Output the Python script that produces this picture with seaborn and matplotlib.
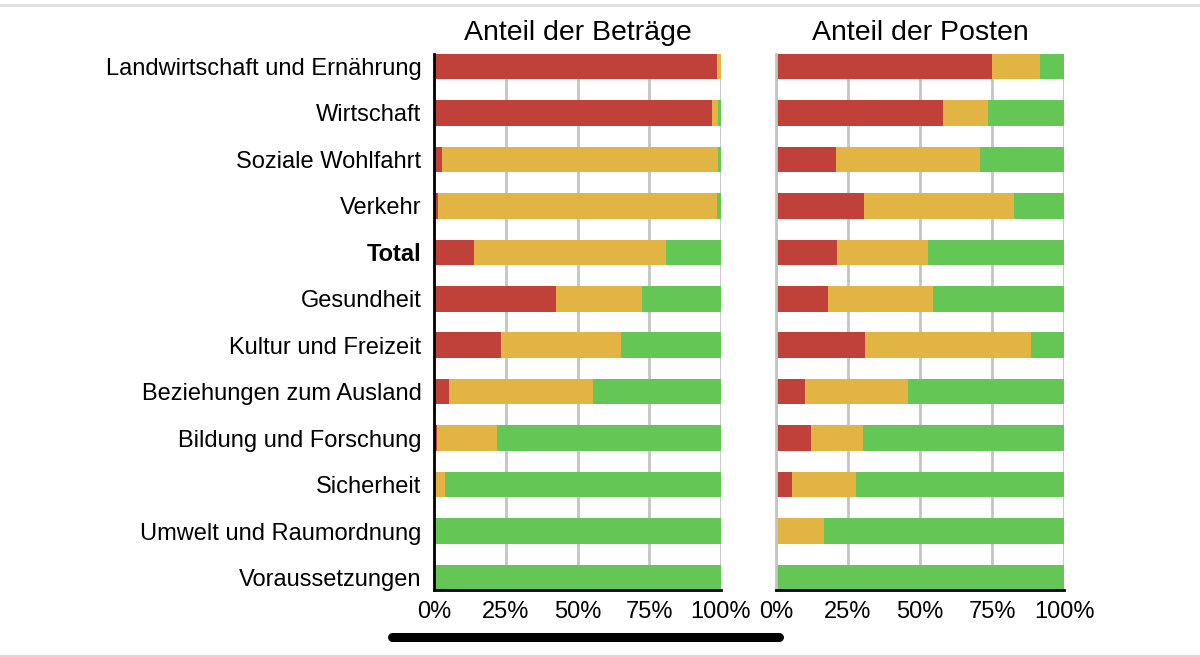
import numpy as np
import pandas as pd
import matplotlib
matplotlib.use("Agg")
import matplotlib.pyplot as plt
import seaborn as sns
from matplotlib.lines import Line2D

sns.set_style("white")
plt.rcParams['font.family'] = ['Liberation Sans', 'DejaVu Sans']
plt.rcParams['text.color'] = 'black'
plt.rcParams['xtick.color'] = 'black'
plt.rcParams['ytick.color'] = 'black'

# Categories (top to bottom)
categories = [
    "Landwirtschaft und Ernährung", "Wirtschaft", "Soziale Wohlfahrt", "Verkehr",
    "Total", "Gesundheit", "Kultur und Freizeit", "Beziehungen zum Ausland",
    "Bildung und Forschung", "Sicherheit", "Umwelt und Raumordnung", "Voraussetzungen",
]

# Anteil der Beträge (%): red, yellow (rest is green)
betraege_rot = [98.7, 97.0, 2.9, 1.5, 14.1, 42.6, 23.2, 5.4, 1.0, 0.0, 0.0, 0.0]
betraege_gelb = [1.3, 2.1, 95.9, 97.2, 66.7, 30.0, 42.0, 49.9, 20.9, 4.0, 0.6, 0.0]

# Anteil der Posten (%): red, yellow (rest is green)
posten_rot = [75.1, 57.9, 20.8, 30.6, 21.1, 18.2, 30.8, 10.0, 12.0, 5.6, 0.0, 0.0]
posten_gelb = [16.7, 15.8, 50.0, 52.0, 31.7, 36.3, 57.7, 36.0, 18.3, 22.2, 16.6, 0.0]

titles = ["Anteil der Beträge", "Anteil der Posten"]
ticks = [0, 25, 50, 75, 100]
tick_labels = ["0%", "25%", "50%", "75%", "100%"]

RED = "#c0403a"
YELLOW = "#e1b443"
GREEN = "#63c655"
GRID = "#c4c4c4"

fig = plt.figure(figsize=(12, 6.57), dpi=100)
W, H = 1200, 657
top, bottom = 54, 590
ax1 = fig.add_axes([434 / W, 1 - bottom / H, 287 / W, (bottom - top) / H])
ax2 = fig.add_axes([776 / W, 1 - bottom / H, 288 / W, (bottom - top) / H])

for ax, rot, gelb, title in [(ax1, betraege_rot, betraege_gelb, titles[0]),
                             (ax2, posten_rot, posten_gelb, titles[1])]:
    df = pd.DataFrame({"Kategorie": categories, "rot": rot, "gelb": gelb})
    df["gesamt"] = 100.0
    df["rot_gelb"] = df["rot"] + df["gelb"]
    # layered bars: green (full), yellow (cumulative), red
    for col, c in [("gesamt", GREEN), ("rot_gelb", YELLOW), ("rot", RED)]:
        sns.barplot(data=df, x=col, y="Kategorie", orient="h", color=c,
                    width=0.55, saturation=1, linewidth=0, ax=ax)
    ax.set_xlim(0, 100)
    ax.set_ylim(11.27, -0.27)
    ax.set_xticks(ticks)
    ax.set_xticklabels(tick_labels, fontsize=17)
    ax.set_xlabel("")
    ax.set_ylabel("")
    ax.set_axisbelow(True)
    ax.grid(axis="x", color=GRID, linewidth=2)
    ax.grid(axis="y", visible=False)
    ax.tick_params(axis="x", length=0, pad=8)
    ax.tick_params(axis="y", length=0)
    ax.set_title(title, fontsize=20.5, pad=10)
    for s in ["top", "right"]:
        ax.spines[s].set_visible(False)
    ax.spines["bottom"].set_color("black")
    ax.spines["bottom"].set_linewidth(2)

ax1.spines["left"].set_color("black")
ax1.spines["left"].set_linewidth(2)
ax1.tick_params(axis="y", labelsize=17, pad=9)
for lab in ax1.get_yticklabels():
    if lab.get_text() == "Total":
        lab.set_fontweight("bold")
ax2.spines["left"].set_color(GRID)
ax2.spines["left"].set_linewidth(2)
ax2.set_yticklabels([])

# screenshot frame details
fig.add_artist(Line2D([0, 1], [1 - 5 / H, 1 - 5 / H], color="#e0e0e0", linewidth=2))
fig.add_artist(Line2D([0, 1], [1 - 655.5 / H, 1 - 655.5 / H], color="#d8d8d8", linewidth=1.5))
fig.add_artist(Line2D([392 / W, 779 / W], [1 - 636.5 / H, 1 - 636.5 / H], color="black",
                      linewidth=6.5, solid_capstyle="round"))

fig.savefig("out.png", dpi=100)
